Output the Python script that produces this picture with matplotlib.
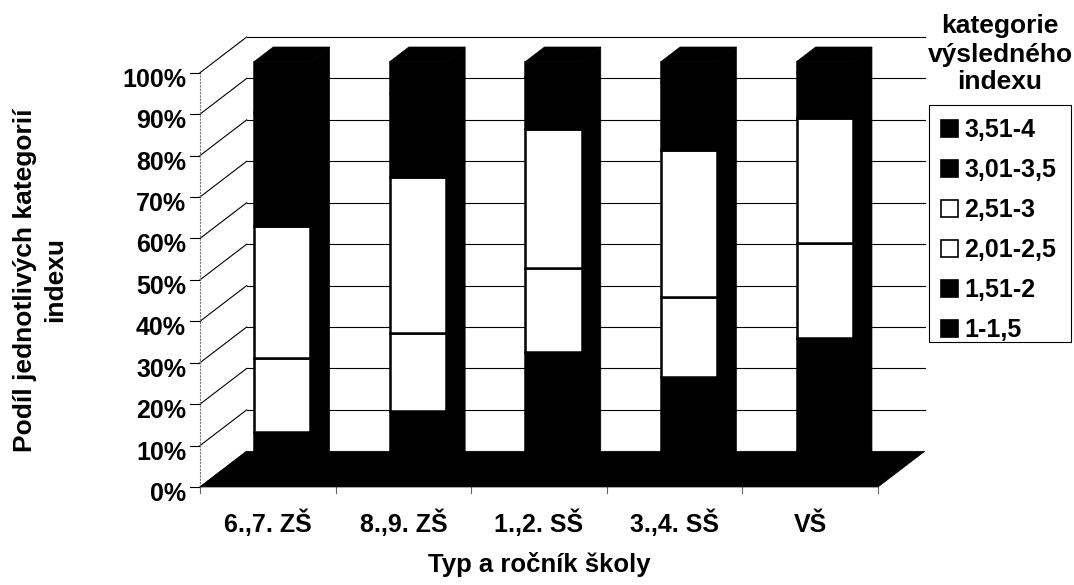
# coding:utf-8
# 3D skládaný 100% sloupcový graf (styl Excelu), kreslený v šikmé projekci.
import numpy as np
import matplotlib.pyplot as plt
from matplotlib.patches import Polygon, Patch, Rectangle

plt.rcParams['font.family'] = ['Liberation Sans', 'DejaVu Sans']

#[data]
kategorie_skoly = ['6.,7. ZŠ', '8.,9. ZŠ', '1.,2. SŠ', '3.,4. SŠ', 'VŠ']
nazvy_rad = ['1-1,5', '1,51-2', '2,01-2,5', '2,51-3', '3,01-3,5', '3,51-4']
rada_1_15 = [1.5, 1.0, 3.5, 2.8, 6.2]
rada_151_2 = [9.1, 14.6, 26.3, 21.0, 27.2]
rada_201_25 = [17.8, 18.8, 20.4, 19.3, 22.9]
rada_251_3 = [31.9, 37.7, 33.6, 35.5, 30.0]
rada_301_35 = [27.5, 20.4, 12.6, 16.6, 11.1]
rada_351_4 = [12.2, 7.5, 3.6, 4.8, 2.6]
barvy_rad = ['black', 'black', 'white', 'white', 'black', 'black']
y_ticks = [0, 10, 20, 30, 40, 50, 60, 70, 80, 90, 100]

#[geometry] - pixely obrazku
W_px, H_px = 1074, 585
sx = 135.6     # px na jednu kategorii
sy = 4.143     # px na 1 %
x0_px = 200    # levy predni roh osy
y0_px = 487    # 0 % na predni rovine
DX = 46.7 / sx  # hloubka grafu (posun doprava)
DY = 35.7 / sy  # hloubka grafu (posun nahoru)
D0, D1 = 0.31, 0.72  # predni a zadni stena sloupce (podil hloubky)
sirka = 0.415


def proj(x, y, d):
    return (x + d * DX, y + d * DY)


if __name__ == "__main__":
    fig = plt.figure(figsize=(W_px / 100, H_px / 100), dpi=100)
    ax = fig.add_axes([0, 0, 1, 1])
    ax.set_xlim(-x0_px / sx, (W_px - x0_px) / sx)
    ax.set_ylim((y0_px - H_px) / sy, y0_px / sy)
    ax.axis('off')

    n = len(kategorie_skoly)
    rady = np.array([rada_1_15, rada_151_2, rada_201_25, rada_251_3, rada_301_35, rada_351_4])
    rady = rady / rady.sum(axis=0) * 100

    # mrizka na zadni a leve stene
    for v in y_ticks:
        ax.plot([0, DX], [v, v + DY], color='black', lw=0.8, zorder=1)
        if v > 0:
            ax.plot([DX, n + DX], [v + DY, v + DY], color='black', lw=0.8, zorder=1)
        ax.plot([-10 / sx, 0], [v, v], color='black', lw=0.8, zorder=1)
        ax.text(-14 / sx, v - 14 / sy, f'{v}%', ha='right', va='baseline',
                fontsize=18, fontweight='bold')
    ax.plot([0, 0], [0, 100], color='0.45', lw=0.8, ls=(0, (2, 1)), zorder=1)

    # podlaha (cerna)
    podlaha = [proj(0, 0, 0), proj(n, 0, 0), proj(n, 0, 1), proj(0, 0, 1)]
    ax.add_patch(Polygon(podlaha, closed=True, facecolor='black', edgecolor='black', lw=0.5, zorder=2))

    # znacky kategorii
    for k in range(n + 1):
        ax.plot([k, k], [0, -6 / sy], color='0.4', lw=0.8, zorder=1)

    # sloupce
    spodky = np.vstack([np.zeros(n), np.cumsum(rady, axis=0)[:-1]])
    for i in range(n):
        xl = i + 0.5 - sirka / 2
        xr = i + 0.5 + sirka / 2
        # prava stena a horni stena
        prava = [proj(xr, 0, D0), proj(xr, 0, D1), proj(xr, 100, D1), proj(xr, 100, D0)]
        horni = [proj(xl, 100, D0), proj(xr, 100, D0), proj(xr, 100, D1), proj(xl, 100, D1)]
        ax.add_patch(Polygon(prava, closed=True, facecolor='black', edgecolor='black', lw=0.5, zorder=3))
        ax.add_patch(Polygon(horni, closed=True, facecolor='black', edgecolor='black', lw=0.5, zorder=3))
        # predni stena po segmentech
        for j in range(len(nazvy_rad)):
            y_a = spodky[j, i]
            y_b = y_a + rady[j, i]
            predni = [proj(xl, y_a, D0), proj(xr, y_a, D0), proj(xr, y_b, D0), proj(xl, y_b, D0)]
            ax.add_patch(Polygon(predni, closed=True, facecolor=barvy_rad[j],
                                 edgecolor='black', lw=1.8, zorder=4))

    # popisky kategorii
    for i, lab in enumerate(kategorie_skoly):
        ax.text(i + 0.5, -(532 - y0_px) / sy, lab, ha='center', va='baseline', fontsize=18,
                fontweight='bold')

    ax.text((539 - x0_px) / sx, -(572 - y0_px) / sy, 'Typ a ročník školy', ha='center',
            va='baseline', fontsize=18.5, fontweight='bold')
    ax.text((40 - x0_px) / sx, (y0_px - 280) / sy, 'Podíl jednotlivých kategorií\nindexu',
            rotation=90, ha='center', va='center', multialignment='center',
            linespacing=1.3, fontsize=19, fontweight='bold')

    # legenda
    for txt, base in zip(['kategorie', 'výsledného', 'indexu'], [33, 62, 89]):
        ax.text((1000 - x0_px) / sx, (y0_px - base) / sy, txt, ha='center', va='baseline',
                fontsize=19, fontweight='bold')
    handles = [Patch(facecolor=barvy_rad[j], edgecolor='black', lw=1.2) for j in range(len(nazvy_rad))][::-1]
    leg = ax.legend(handles, nazvy_rad[::-1], loc='upper left',
                    bbox_to_anchor=(941 / W_px, 1 - 118 / H_px), bbox_transform=fig.transFigure,
                    prop={'weight': 'bold', 'size': 18}, frameon=False, borderpad=0,
                    handlelength=0.68, handleheight=0.68, handletextpad=0.25,
                    labelspacing=0.64, borderaxespad=0)
    ramecek = Rectangle((929 / W_px, 1 - 342 / H_px), (1071 - 929) / W_px, (342 - 105) / H_px,
                        transform=fig.transFigure, fill=False, edgecolor='black', lw=0.8)
    fig.add_artist(ramecek)

    fig.savefig('out.png', dpi=100)
